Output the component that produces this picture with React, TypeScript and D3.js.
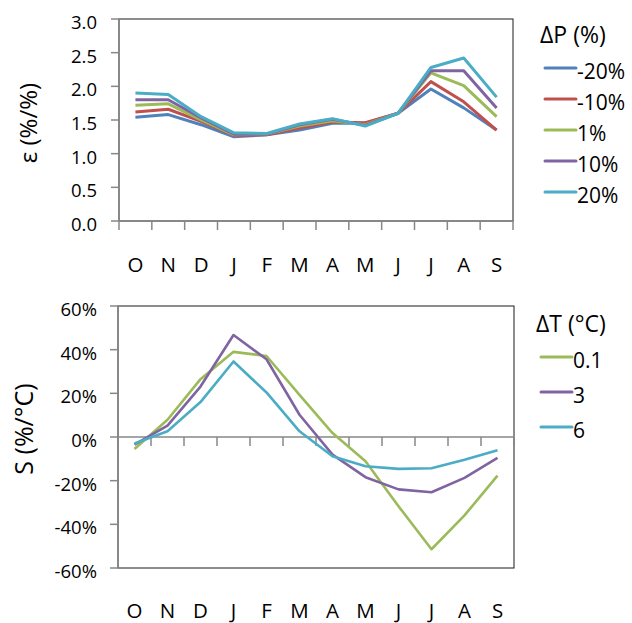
import React from 'react';
import * as d3 from 'd3';

// month labels (Oct..Sep hydrological year)
const months = ['O', 'N', 'D', 'J', 'F', 'M', 'A', 'M', 'J', 'J', 'A', 'S'];

// top panel: elasticity for precipitation changes
const dpLabels = ['-20%', '-10%', '1%', '10%', '20%'];
const epsM20 = [1.54, 1.58, 1.43, 1.25, 1.28, 1.35, 1.45, 1.45, 1.6, 1.96, 1.68, 1.35];
const epsM10 = [1.62, 1.66, 1.48, 1.27, 1.28, 1.38, 1.47, 1.46, 1.6, 2.07, 1.77, 1.35];
const epsP1 = [1.72, 1.74, 1.5, 1.28, 1.29, 1.41, 1.49, 1.43, 1.6, 2.2, 2.01, 1.55];
const epsP10 = [1.8, 1.8, 1.53, 1.29, 1.29, 1.43, 1.51, 1.42, 1.6, 2.23, 2.23, 1.68];
const epsP20 = [1.9, 1.88, 1.55, 1.31, 1.3, 1.44, 1.52, 1.41, 1.6, 2.28, 2.42, 1.84];
const epsTicks = [0, 0.5, 1, 1.5, 2, 2.5, 3];

// bottom panel: sensitivity to temperature changes (%/°C)
const dtLabels = ['0.1', '3', '6'];
const sT01 = [-5.5, 7.9, 26.5, 39, 37.1, 19.3, 1.8, -11.1, -31.7, -51.4, -35.9, -17.7];
const sT3 = [-3.5, 5.2, 23.1, 46.7, 35.6, 10.2, -8.1, -18.4, -24, -25.3, -18.7, -9.6];
const sT6 = [-3, 2.6, 16, 34.6, 20.4, 2.6, -8.8, -13.4, -14.6, -14.3, -10.4, -6.1];
const sTicks = [-60, -40, -20, 0, 20, 40, 60];

const colors = ['#4F81BD', '#C0504D', '#9BBB59', '#8064A2', '#4BACC6'];
const font = '"Open Sans", sans-serif';
const axisGrey = '#878787';

const idx = d3.range(months.length);

function Panel({ series, names, cols, yDomain, yTicks, fmt, top, bottom, left, right, zeroY, title, legendTitle, legendX, legendY0, legendStep, labelBaseline, lineW }) {
  const x = d3.scaleBand<number>().domain(idx).range([left, right]).padding(0);
  const y = d3.scaleLinear().domain(yDomain).range([bottom, top]);
  const line = d3.line<number>().x((_, i) => x(i)! + x.bandwidth() / 2).y(d => y(d));
  const axisY = y(zeroY);
  const edges = d3.range(months.length + 1).map(i => left + i * x.bandwidth());
  return (
    <g>
      <rect x={left} y={top} width={right - left} height={bottom - top} fill="none" stroke="#1a1a1a" strokeWidth={1} />
      {/* y axis */}
      <line x1={left} x2={left} y1={top} y2={bottom} stroke={axisGrey} strokeWidth={1.5} />
      {yTicks.map(t => (
        <g key={t}>
          <line x1={left - 8} x2={left} y1={y(t)} y2={y(t)} stroke={axisGrey} strokeWidth={1.5} />
          <text x={97} y={y(t) + 10} textAnchor="end" fontFamily={font} fontSize={18.5} fill="#000">{fmt(t)}</text>
        </g>
      ))}
      {/* category axis */}
      <line x1={left} x2={right} y1={axisY} y2={axisY} stroke={axisGrey} strokeWidth={1.5} />
      {edges.map((e, i) => (
        <line key={i} x1={e} x2={e} y1={axisY} y2={axisY + 9} stroke={axisGrey} strokeWidth={1.5} />
      ))}
      {months.map((m, i) => (
        <text key={i} x={x(i)! + x.bandwidth() / 2} y={labelBaseline} textAnchor="middle" fontFamily={font} fontSize={20.5} fill="#000">{m}</text>
      ))}
      {/* series */}
      {series.map((s, k) => (
        <path key={k} d={line(s)!} fill="none" stroke={cols[k]} strokeWidth={lineW} strokeLinejoin="round" />
      ))}
      {/* y title */}
      <text transform={`translate(${title.x},${(top + bottom) / 2 + title.dy}) rotate(-90)`} textAnchor="middle" fontFamily={font} fontSize={title.size} fill="#000">{title.text}</text>
      {/* legend */}
      <text x={legendX - 5} y={legendTitle.y} fontFamily={font} fontSize={23} fill="#000">{legendTitle.text}</text>
      {names.map((n, k) => (
        <g key={n}>
          <line x1={legendX} x2={legendX + 31} y1={legendY0 + k * legendStep} y2={legendY0 + k * legendStep} stroke={cols[k]} strokeWidth={3} strokeLinecap="round" />
          <text x={legendX + 32} y={legendY0 + k * legendStep + 11} fontFamily={font} fontSize={21} fill="#000">{n}</text>
        </g>
      ))}
    </g>
  );
}

export default function App() {
  return (
    <svg width={632} height={623} style={{ position: 'absolute', left: 0, top: 0, background: '#fff' }}>
      <Panel
        series={[epsM20, epsM10, epsP1, epsP10, epsP20]}
        names={dpLabels}
        cols={colors}
        yDomain={[0, 3]}
        yTicks={epsTicks}
        fmt={d3.format('.1f')}
        top={19}
        bottom={221}
        left={119}
        right={513}
        zeroY={0}
        title={{ text: 'ε (%/%)', x: 37, dy: 3, size: 24 }}
        legendTitle={{ text: 'ΔP (%)', y: 43 }}
        legendX={545}
        legendY0={68}
        legendStep={31}
        labelBaseline={272}
        lineW={3}
      />
      <Panel
        series={[sT01, sT3, sT6]}
        names={dtLabels}
        cols={[colors[2], colors[3], colors[4]]}
        yDomain={[-60, 60]}
        yTicks={sTicks}
        fmt={d => `${d}%`}
        top={306}
        bottom={568}
        left={118}
        right={514}
        zeroY={0}
        title={{ text: 'S (%/°C)', x: 33, dy: -8, size: 25 }}
        legendTitle={{ text: 'ΔT (°C)', y: 332 }}
        legendX={541}
        legendY0={357}
        legendStep={35}
        labelBaseline={618}
        lineW={2.6}
      />
    </svg>
  );
}
